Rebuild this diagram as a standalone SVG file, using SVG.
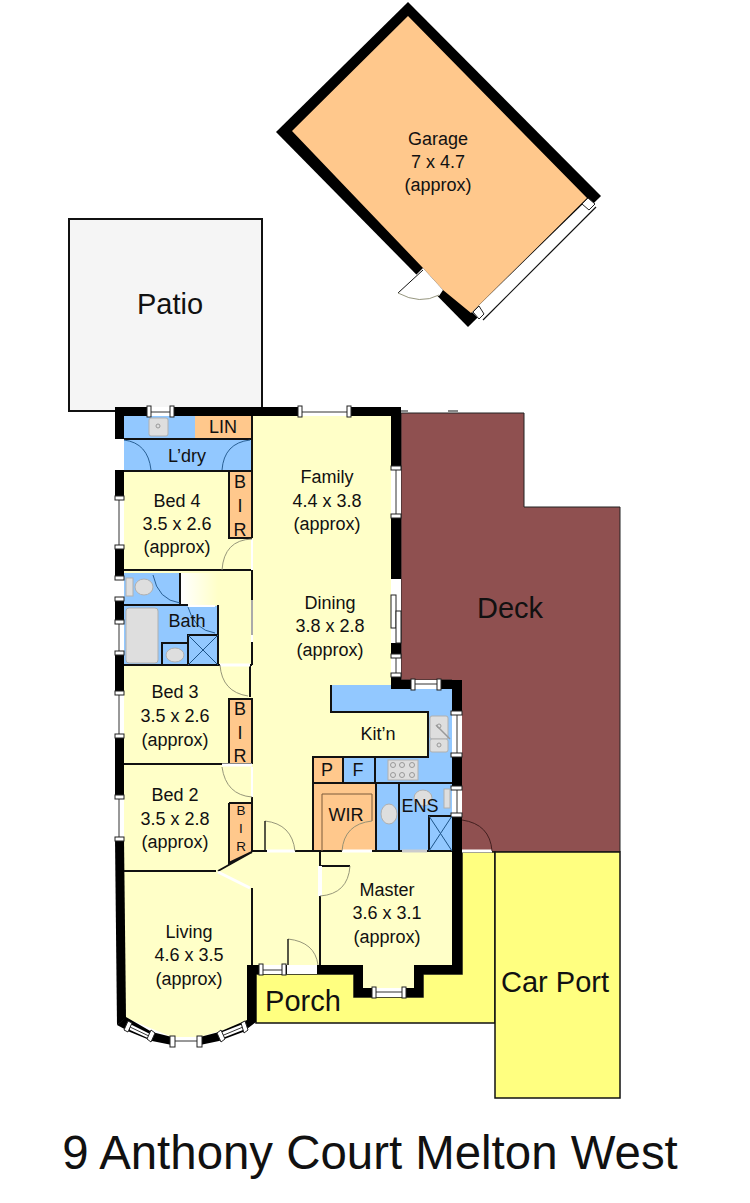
<svg xmlns="http://www.w3.org/2000/svg" width="750" height="1203" viewBox="0 0 750 1203">
<defs>
<linearGradient id="pale" x1="0" x2="1" y1="0" y2="0"><stop offset="0" stop-color="#fff"/><stop offset="1" stop-color="#ffffc8"/></linearGradient>
<style>
text{font-family:"Liberation Sans",Arial,sans-serif;fill:#111;text-anchor:middle}
.l{font-size:18px}.b{font-size:29px}.s{font-size:13.5px}
.t{fill:none;stroke:#111;stroke-width:2}
.h{fill:none;stroke:#7a5a3a;stroke-width:1}
.w{fill:#000}
.win{fill:#fff;stroke:#222;stroke-width:1}
.pane{stroke:#333;stroke-width:1;fill:none}
.arc{fill:none;stroke:#8a8a70;stroke-width:.9}
.gap{fill:#fff}
.fix{fill:#dedede;stroke:#b0b0b0;stroke-width:1}
.x{stroke:#1d5488;stroke-width:1;fill:none}
</style></defs>
<rect width="750" height="1203" fill="#fff"/>
<g id="garage">
<polygon class="w" points="408,2 601,196 468,327 276,132"/>
<polygon points="587,200 599,206 482,322 472,312" fill="#fff"/>
<path d="M596,207L483,320" stroke="#111" stroke-width="1.2"/>
<polygon points="292,131 408,16 587,198 471,313 443,290 423,268" fill="#ffc88c"/>
<polygon points="423,268 443,290 439,296 420,296 398,293" fill="#fff"/>
<path d="M423,270L398,293" stroke="#111" stroke-width="1"/>
<path d="M398,293Q420,305 439,295" class="arc"/>
<polygon class="win" points="582,204 588,198 595,204 589,210"/>
<polygon class="win" points="473,312 479,306 484,314 479,319"/>
<text class="l" x="438" y="145">Garage</text><text class="l" x="438" y="168">7 x 4.7</text><text class="l" x="438" y="191">(approx)</text>
</g>
<g id="patio"><rect x="69" y="219" width="193" height="192" fill="#f5f5f5" stroke="#111" stroke-width="2"/>
<text class="b" x="170" y="314">Patio</text></g>
<g id="deck"><polygon points="401,413 524,413 524,507 620,507 620,852 452,852 452,680 401,680" fill="#8f5050" stroke="#222" stroke-width="1"/>
<path d="M401,411H408M448,411H458" stroke="#111" stroke-width="1.2"/>
<text class="b" x="510" y="618">Deck</text></g>
<g id="porch"><polygon points="462,852 495,852 495,1023 256,1023 256,974 354,974 354,997 423,997 423,974 462,974" fill="#ffff80" stroke="#111" stroke-width="1.5"/>
<text class="b" x="303" y="1011">Porch</text></g>
<g id="carport"><rect x="495" y="852" width="125" height="246" fill="#ffff80" stroke="#111" stroke-width="1.5"/>
<text class="b" x="555" y="992">Car Port</text></g>
<g id="floor">
<polygon points="124,416 391,416 391,685 452,685 452,965 414,965 414,988 363,988 363,965 247,965 247,1023 200,1037 172,1037 126,1018 124,1000" fill="#ffffc8"/>
<rect x="181" y="573" width="37" height="33" fill="url(#pale)"/>
<rect x="124" y="416" width="71" height="23" fill="#92c8ff"/>
<rect x="124" y="440" width="128" height="31" fill="#92c8ff"/>
<rect x="195" y="416" width="57" height="23" fill="#ffc88c"/>
<rect x="124" y="573" width="56" height="32" fill="#92c8ff"/>
<rect x="124" y="606" width="94" height="59" fill="#92c8ff"/>
<path d="M188,606H215" stroke="#fff" stroke-width="2"/>
<polygon points="331,685 452,685 452,783 375,783 375,757 428,757 428,712 331,712" fill="#92c8ff"/>
<rect x="343" y="757" width="32" height="26" fill="#92c8ff"/>
<rect x="313" y="757" width="30" height="26" fill="#ffc88c"/>
<rect x="313" y="783" width="63" height="68" fill="#ffc88c"/>
<rect x="376" y="783" width="76" height="68" fill="#92c8ff"/>
<rect x="229" y="472" width="23" height="66" fill="#ffc88c"/>
<rect x="229" y="699" width="23" height="65" fill="#ffc88c"/>
<polygon points="229,803 252,803 252,852 229,863" fill="#ffc88c"/>
</g>
<g id="walls" class="w">
<rect x="115" y="407" width="286" height="9"/>
<rect x="391" y="407" width="10" height="278"/>
<rect x="391" y="680" width="71" height="9"/>
<rect x="452" y="680" width="10" height="294"/>
<rect x="414" y="965" width="48" height="9"/>
<rect x="414" y="965" width="9" height="32"/>
<rect x="354" y="988" width="69" height="9"/>
<rect x="354" y="965" width="9" height="32"/>
<rect x="247" y="965" width="107" height="9"/>
<rect x="247" y="965" width="9" height="57"/>
<rect x="115" y="407" width="9" height="32"/>
<rect x="115" y="470" width="9" height="368"/>
<polygon points="115,838 124,838 126,1018 117,1025"/>
<polygon points="117,1025 126,1017 152,1032 172,1037 200,1037 219,1032 247,1020 256,1022 243,1032 219,1041 200,1045 172,1045 152,1041 130,1032"/>
</g>
<g id="thin" class="t">
<path d="M124,439H252M124,471H252M124,570H252M229,472V538H252M252,416V538M252,570V600M252,642V665M250,665V697M124,605H188M124,665H252M218,605V665M188,665V635H218M162,665V643H188M124,764H252M229,764V699H252V764M252,797V852M229,803H252M229,803V863L252,852M124,871H216M218,871L252,852M252,888V965M252,851H267M295,851H342M372,851H402M427,851H452M320,851V866M320,896V965M320,866H350"/>
<path d="M331,685V712H428V757H313V851M313,783H452M343,757V783M375,757V783M376,783V851M399,783V851M429,851V816H452"/>
<path d="M180,573V605"/>
</g>
<path d="M322,851V794H372V821" class="h"/>
<g id="windows">
<rect class="gap" x="147" y="407" width="25" height="9"/>
<rect class="gap" x="300" y="407" width="49" height="9"/>
<path class="pane" d="M151,412H170M302,412H347"/>
<rect class="win" x="147" y="406" width="4" height="11"/><rect class="win" x="170" y="406" width="4" height="11"/>
<rect class="win" x="298" y="406" width="4" height="11"/><rect class="win" x="347" y="406" width="4" height="11"/>
<rect class="gap" x="115" y="498" width="9" height="49"/>
<rect class="gap" x="115" y="578" width="9" height="21"/>
<rect class="gap" x="115" y="622" width="9" height="30"/>
<rect class="gap" x="115" y="693" width="9" height="42"/>
<rect class="gap" x="115" y="797" width="9" height="41"/>
<path class="pane" d="M119,498V547M119,622V652M119,693V735M119,797V838"/>
<rect class="win" x="115" y="496" width="9" height="4"/><rect class="win" x="115" y="545" width="9" height="4"/>
<rect class="win" x="115" y="576" width="9" height="4"/><rect class="win" x="115" y="597" width="9" height="4"/>
<rect class="win" x="115" y="620" width="9" height="4"/><rect class="win" x="115" y="651" width="9" height="4"/>
<rect class="win" x="115" y="691" width="9" height="4"/><rect class="win" x="115" y="734" width="9" height="4"/>
<rect class="win" x="115" y="795" width="9" height="4"/><rect class="win" x="115" y="837" width="9" height="4"/>
<rect class="gap" x="391" y="468" width="10" height="48"/>
<path class="pane" d="M396,468V516"/>
<rect class="win" x="391" y="466" width="10" height="4"/><rect class="win" x="391" y="514" width="10" height="4"/>
<rect class="gap" x="391" y="579" width="10" height="64"/>
<rect class="win" x="391" y="595" width="5" height="33"/><rect class="win" x="396" y="611" width="5" height="32"/>
<rect class="gap" x="391" y="656" width="10" height="19"/>
<path class="pane" d="M396,656V675"/>
<rect class="win" x="391" y="654" width="10" height="4"/><rect class="win" x="391" y="673" width="10" height="4"/>
<rect class="gap" x="412" y="680" width="27" height="9"/>
<path class="pane" d="M412,684H439"/>
<rect class="win" x="411" y="679" width="4" height="11"/><rect class="win" x="437" y="679" width="4" height="11"/>
<rect class="gap" x="452" y="712" width="10" height="43"/>
<rect class="gap" x="452" y="787" width="10" height="28"/>
<path class="pane" d="M457,712V755M457,787V815"/>
<rect class="win" x="451" y="711" width="11" height="4"/><rect class="win" x="451" y="753" width="11" height="4"/>
<rect class="win" x="451" y="786" width="11" height="4"/><rect class="win" x="451" y="813" width="11" height="4"/>
<rect class="gap" x="261" y="965" width="23" height="9"/>
<path class="pane" d="M261,970H284"/>
<rect class="win" x="259" y="964" width="4" height="11"/><rect class="win" x="282" y="964" width="4" height="11"/>
<rect class="gap" x="287" y="965" width="30" height="9"/>
<rect class="gap" x="373" y="988" width="31" height="9"/>
<path class="pane" d="M373,992H404"/>
<rect class="win" x="372" y="987" width="4" height="11"/><rect class="win" x="402" y="987" width="4" height="11"/>
<polygon class="gap" points="130,1024 150,1034 150,1039 130,1030"/>
<polygon class="gap" points="173,1037 199,1037 199,1045 173,1045"/>
<polygon class="gap" points="220,1033 243,1024 243,1030 220,1039"/>
<path class="pane" d="M130,1027L151,1037M172,1041H200M219,1037L243,1027"/>
<rect class="win" x="170" y="1036" width="5" height="11"/><rect class="win" x="197" y="1036" width="5" height="11"/>
<polygon class="win" points="128,1021 132,1023 128,1032 124,1030"/><polygon class="win" points="151,1030 155,1033 151,1042 147,1039"/>
<polygon class="win" points="217,1033 221,1030 225,1039 221,1042"/><polygon class="win" points="241,1023 245,1021 248,1030 244,1033"/>
<path d="M218,872L250,888" stroke="#fff" stroke-width="3"/>
<path d="M252,539V570M252,767V797" stroke="#fff" stroke-width="2"/>
<path d="M252,600V635" stroke="#aaa" stroke-width="2"/><path d="M252,635V642" stroke="#fff" stroke-width="2"/>
<path d="M220,665H250M222,765H252M267,851H295M342,851H372" stroke="#fff" stroke-width="3"/>
<path d="M402,851H427" stroke="#ccc" stroke-width="3"/>
<path d="M320,866V896" stroke="#fff" stroke-width="4"/>
<path d="M462,851H492" stroke="#fff" stroke-width="3"/>
</g>
<g id="doors" class="arc">
<path d="M222,570Q224,540 252,539M220,665Q222,692 248,696M222,767Q226,795 252,797M265,821Q292,824 295,851M350,866Q348,894 320,896M288,939Q315,942 318,965M342,851Q344,824 372,821"/>
<path d="M153,575Q158,600 180,603M188,607Q194,630 215,633M124,440Q148,443 151,470M222,470Q224,443 250,440" stroke="#1d5488"/>
<path d="M462,820Q490,824 492,851" stroke="#3a1a1a"/>
<path d="M288,965V939M265,851V821" stroke="#111" stroke-width="1.4"/>
</g>
<g id="fixtures">
<rect class="fix" x="149" y="418" width="19" height="18" rx="2"/>
<circle cx="158" cy="426" r="2" fill="none" stroke="#999"/>
<rect class="fix" x="126" y="608" width="32" height="55" rx="3"/>
<rect x="188" y="635" width="30" height="30" fill="none" stroke="#111" stroke-width="2"/>
<path class="x" d="M188,635L218,665M218,635L188,665"/>
<ellipse class="fix" cx="144" cy="587" rx="9" ry="8"/><rect class="fix" x="126" y="578" width="7" height="18"/>
<ellipse class="fix" cx="175" cy="655" rx="9" ry="7"/>
<rect class="fix" x="430" y="716" width="18" height="23" rx="2"/><rect class="fix" x="430" y="739" width="18" height="13" rx="2"/>
<path d="M436,725L450,739" stroke="#999" stroke-width="1.5"/>
<circle cx="439" cy="726" r="2" fill="none" stroke="#999"/><circle cx="439" cy="745" r="2" fill="none" stroke="#999"/>
<rect class="fix" x="388" y="760" width="30" height="20"/>
<g fill="none" stroke="#999"><circle cx="393" cy="765" r="2.5"/><circle cx="402" cy="765" r="2.5"/><circle cx="412" cy="765" r="2.5"/><circle cx="393" cy="775" r="2.5"/><circle cx="402" cy="775" r="2.5"/><circle cx="412" cy="775" r="2.5"/></g>
<ellipse class="fix" cx="389" cy="814" rx="8" ry="10"/>
<ellipse class="fix" cx="423" cy="798" rx="9" ry="8"/><rect class="fix" x="444" y="789" width="6" height="19"/>
<path class="x" d="M429,816L452,851M452,816L429,851"/>
</g>
<g id="labels">
<text class="l" x="327" y="483">Family</text><text class="l" x="327" y="507">4.4 x 3.8</text><text class="l" x="327" y="530">(approx)</text>
<text class="l" x="330" y="609">Dining</text><text class="l" x="330" y="632">3.8 x 2.8</text><text class="l" x="330" y="656">(approx)</text>
<text class="l" x="177" y="507">Bed 4</text><text class="l" x="177" y="530">3.5 x 2.6</text><text class="l" x="177" y="553">(approx)</text>
<text class="l" x="187" y="627">Bath</text>
<text class="l" x="175" y="698">Bed 3</text><text class="l" x="175" y="722">3.5 x 2.6</text><text class="l" x="175" y="746">(approx)</text>
<text class="l" x="175" y="801">Bed 2</text><text class="l" x="175" y="825">3.5 x 2.8</text><text class="l" x="175" y="848">(approx)</text>
<text class="l" x="189" y="938">Living</text><text class="l" x="189" y="961">4.6 x 3.5</text><text class="l" x="189" y="985">(approx)</text>
<text class="l" x="387" y="896">Master</text><text class="l" x="387" y="919">3.6 x 3.1</text><text class="l" x="387" y="943">(approx)</text>
<text class="l" x="187" y="462">L’dry</text><text class="l" x="223" y="433">LIN</text>
<text class="l" x="240" y="488">B</text><text class="l" x="240" y="512">I</text><text class="l" x="240" y="536">R</text>
<text class="l" x="240" y="715">B</text><text class="l" x="240" y="739">I</text><text class="l" x="240" y="762">R</text>
<text class="s" x="241" y="815">B</text><text class="s" x="241" y="833">I</text><text class="s" x="241" y="851">R</text>
<text class="l" x="378" y="740">Kit’n</text><text class="l" x="327" y="776">P</text><text class="l" x="358" y="776">F</text>
<text class="l" x="346" y="821">WIR</text><text class="l" x="420" y="812">ENS</text>
<text x="370" y="1169" font-size="47.4">9 Anthony Court Melton West</text>
</g>
</svg>
